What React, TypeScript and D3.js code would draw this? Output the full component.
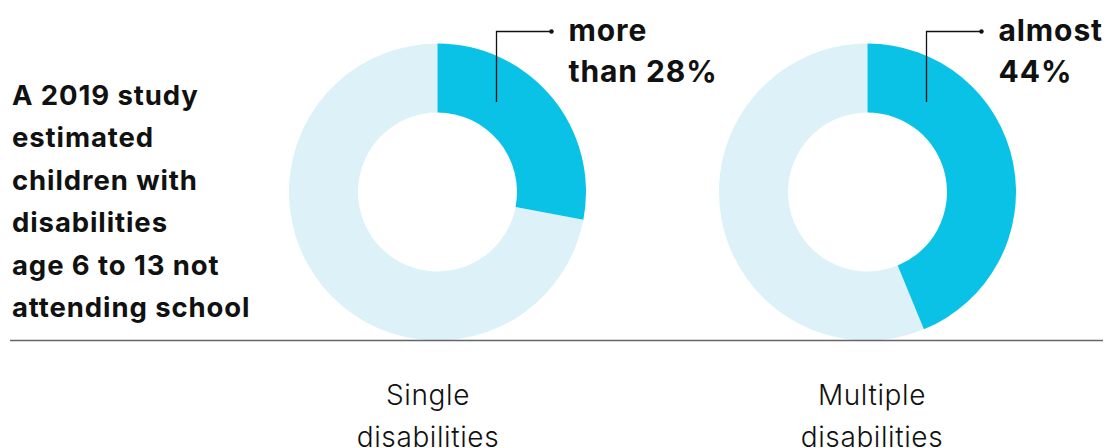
import React from "react";
import * as d3 from "d3";

const categories = ["Single disabilities", "Multiple disabilities"];
const labelLines = [["Single", "disabilities"], ["Multiple", "disabilities"]];
const shareValues = [28, 43.8];
const calloutLines = [["more", "than 28%"], ["almost", "44%"]];
const introLines = [
  "A 2019 study",
  "estimated",
  "children with",
  "disabilities",
  "age 6 to 13 not",
  "attending school",
];

const W = 1111;
const H = 448;
const CYAN = "#09C2E6";
const LIGHT = "#DDF1F8";
const FONT = "Inter, 'Noto Sans', sans-serif";

export default function App() {
  const x = d3.scalePoint<string>().domain(categories).range([437.5, 867.5]);
  const labelX = [428, 872];
  const cy = 192;
  const outerR = 148.5;
  const innerR = 79.5;
  const arc = d3.arc<d3.PieArcDatum<number>>().innerRadius(innerR).outerRadius(outerR);
  const pie = d3.pie<number>().sort(null).value((d) => d);

  return (
    <svg width={W} height={H} style={{ position: "absolute", left: 0, top: 0 }}>
      <rect width={W} height={H} fill="#fff" />
      <g fontFamily={FONT} fontWeight={700} fontSize={27.5} fill="#111">
        {introLines.map((t, i) => (
          <text key={i} x={12} y={105 + i * 42.4} letterSpacing={0.9}>
            {t}
          </text>
        ))}
      </g>
      {categories.map((c, i) => {
        const cx = x(c)!;
        const arcs = pie([shareValues[i], 100 - shareValues[i]]);
        const lx = cx + 59;
        return (
          <g key={c}>
            <g transform={`translate(${cx},${cy})`}>
              <path d={arc(arcs[1])!} fill={LIGHT} />
              <path d={arc(arcs[0])!} fill={CYAN} />
            </g>
            <path
              d={`M${lx},102V31.5H${lx + 55}`}
              fill="none"
              stroke="#111"
              strokeWidth={1.3}
            />
            <circle cx={lx + 55} cy={31.5} r={2.2} fill="#111" />
            <g fontFamily={FONT} fontWeight={700} fontSize={30} fill="#111">
              {calloutLines[i].map((t, j) => (
                <text key={j} x={lx + 72} y={40.5 + j * 41.5} letterSpacing={0.9}>
                  {t}
                </text>
              ))}
            </g>
            <g fontFamily={FONT} fontWeight={300} fontSize={28} fill="#111" textAnchor="middle">
              {labelLines[i].map((t, j) => (
                <text key={j} x={labelX[i]} y={405 + j * 42} letterSpacing={0.6}>
                  {t}
                </text>
              ))}
            </g>
          </g>
        );
      })}
      <line x1={10} x2={1103} y1={340.5} y2={340.5} stroke="#666" strokeWidth={1.5} />
    </svg>
  );
}
